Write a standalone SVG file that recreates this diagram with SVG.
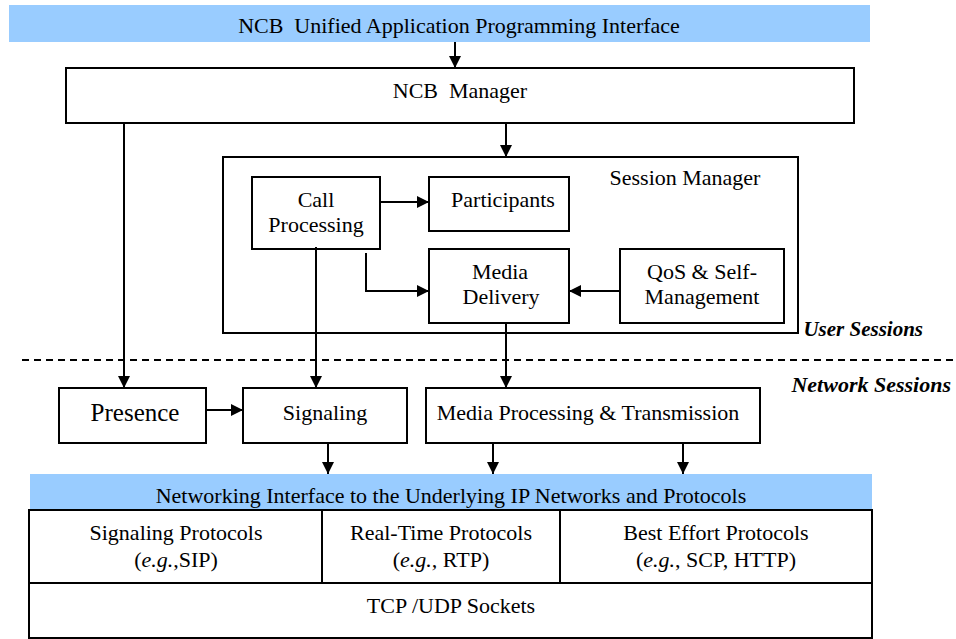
<svg xmlns="http://www.w3.org/2000/svg" width="956" height="639" viewBox="0 0 956 639" font-family="'Liberation Serif', 'Times New Roman', serif">
<style>
text{font-family:'Liberation Serif','Times New Roman',Times,serif;font-size:22px;fill:#000;text-anchor:middle}
.box{fill:#fff;stroke:#000;stroke-width:2}
.band{fill:#99ccff;stroke:none}
.conn{fill:none;stroke:#000;stroke-width:2}
.lbl{font-weight:bold;font-style:italic;text-anchor:end}
</style>
<defs>
<marker id="ah" markerUnits="userSpaceOnUse" markerWidth="12" markerHeight="12" refX="12" refY="6" orient="auto">
<path d="M0,0 L12,6 L0,12 z" fill="#000"/>
</marker>
</defs>
<g id="api"><rect class="band" x="9" y="5" width="861" height="37"/><text x="459" y="33">NCB&#160; Unified Application Programming Interface</text></g>
<g id="ncb-manager"><rect class="box" x="66" y="68" width="788" height="55"/><text x="460" y="98">NCB&#160; Manager</text></g>
<g id="session-manager"><rect class="box" x="223" y="157" width="575" height="176"/><text x="685" y="185">Session Manager</text></g>
<g id="call-processing"><rect class="box" x="252" y="177" width="128" height="72"/><text x="316" y="207">Call</text><text x="316" y="232">Processing</text></g>
<g id="participants"><rect class="box" x="429" y="177" width="140" height="54"/><text x="503" y="207">Participants</text></g>
<g id="media-delivery"><rect class="box" x="429" y="249" width="140" height="74"/><text x="500" y="279">Media</text><text x="501" y="304">Delivery</text></g>
<g id="qos"><rect class="box" x="620" y="249" width="164" height="74"/><text x="702" y="279">QoS &amp; Self-</text><text x="702" y="304">Management</text></g>
<g id="presence"><rect class="box" x="59" y="388" width="147" height="55"/><text x="135" y="421" style="font-size:25px">Presence</text></g>
<g id="signaling"><rect class="box" x="243" y="388" width="164" height="55"/><text x="325" y="420">Signaling</text></g>
<g id="media-processing"><rect class="box" x="426" y="388" width="334" height="55"/><text x="588" y="420">Media Processing &amp; Transmission</text></g>
<g id="network-interface"><rect class="band" x="30" y="474" width="842" height="36"/><text x="451" y="503">Networking Interface to the Underlying IP Networks and Protocols</text></g>
<g id="protocols">
<rect class="box" x="29" y="510" width="843" height="128"/>
<line class="conn" x1="29" y1="583" x2="872" y2="583"/>
<line class="conn" x1="322" y1="510" x2="322" y2="583"/>
<line class="conn" x1="560" y1="510" x2="560" y2="583"/>
<text x="176" y="540">Signaling Protocols</text>
<text x="176" y="567">(<tspan font-style="italic">e.g.</tspan>,SIP)</text>
<text x="441" y="540">Real-Time Protocols</text>
<text x="441" y="567">(<tspan font-style="italic">e.g.,</tspan> RTP)</text>
<text x="716" y="540">Best Effort Protocols</text>
<text x="716" y="567">(<tspan font-style="italic">e.g.</tspan>, SCP, HTTP)</text>
<text x="451" y="613">TCP /UDP Sockets</text>
</g>
<g id="session-labels">
<line class="conn" x1="22" y1="360" x2="956" y2="360" stroke-dasharray="7,5"/>
<text class="lbl" x="923" y="336" style="font-size:21px">User Sessions</text>
<text class="lbl" x="951" y="392" style="font-size:22px">Network Sessions</text>
</g>
<g id="connectors">
<line class="conn" x1="455" y1="42" x2="455" y2="68" marker-end="url(#ah)"/>
<line class="conn" x1="506" y1="123" x2="506" y2="157" marker-end="url(#ah)"/>
<line class="conn" x1="124" y1="123" x2="124" y2="388" marker-end="url(#ah)"/>
<line class="conn" x1="380" y1="202" x2="429" y2="202" marker-end="url(#ah)"/>
<path class="conn" d="M366,253 V291 H429" marker-end="url(#ah)"/>
<line class="conn" x1="620" y1="291" x2="569" y2="291" marker-end="url(#ah)"/>
<line class="conn" x1="316" y1="247" x2="316" y2="388" marker-end="url(#ah)"/>
<line class="conn" x1="506" y1="323" x2="506" y2="388" marker-end="url(#ah)"/>
<line class="conn" x1="206" y1="410" x2="243" y2="410" marker-end="url(#ah)"/>
<line class="conn" x1="328" y1="443" x2="328" y2="474" marker-end="url(#ah)"/>
<line class="conn" x1="493" y1="443" x2="493" y2="474" marker-end="url(#ah)"/>
<line class="conn" x1="683" y1="443" x2="683" y2="474" marker-end="url(#ah)"/>
</g>
</svg>
